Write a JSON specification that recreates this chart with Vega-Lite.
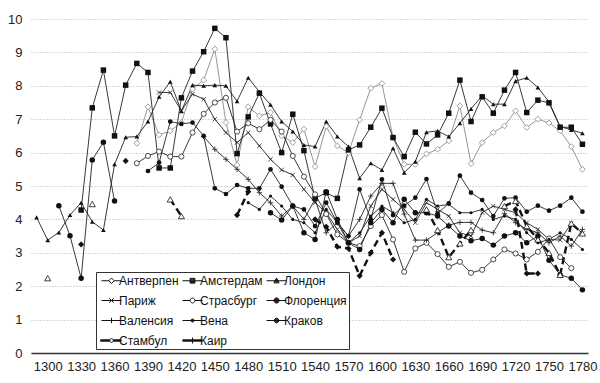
{
"$schema":"https://vega.github.io/schema/vega-lite/v6.json",
"autosize":"none","width":557,"height":334,
"padding":{"left":31,"top":19,"right":12,"bottom":30},
"background":"white",
"config":{"view":{"stroke":null},"font":"Liberation Sans"},
"data":{"values":[
{"city":"Антверпен","year":1380,"value":6.28},{"city":"Антверпен","year":1390,"value":7.37},{"city":"Антверпен","year":1400,"value":6.53},{"city":"Антверпен","year":1410,"value":6.65},{"city":"Антверпен","year":1420,"value":6.9},{"city":"Антверпен","year":1430,"value":7.9},{"city":"Антверпен","year":1440,"value":8.17},{"city":"Антверпен","year":1450,"value":9.1},{"city":"Антверпен","year":1460,"value":6.9},{"city":"Антверпен","year":1470,"value":5.63},{"city":"Антверпен","year":1480,"value":7.37},{"city":"Антверпен","year":1490,"value":7.1},{"city":"Антверпен","year":1500,"value":7.2},{"city":"Антверпен","year":1510,"value":6.5},{"city":"Антверпен","year":1520,"value":6.3},{"city":"Антверпен","year":1530,"value":6.7},{"city":"Антверпен","year":1540,"value":5.58},{"city":"Антверпен","year":1550,"value":6.78},{"city":"Антверпен","year":1560,"value":6.2},{"city":"Антверпен","year":1570,"value":6.0},{"city":"Антверпен","year":1580,"value":6.98},{"city":"Антверпен","year":1590,"value":7.93},{"city":"Антверпен","year":1600,"value":8.07},{"city":"Антверпен","year":1610,"value":6.45},{"city":"Антверпен","year":1620,"value":5.65},{"city":"Антверпен","year":1630,"value":5.65},{"city":"Антверпен","year":1640,"value":5.96},{"city":"Антверпен","year":1650,"value":6.1},{"city":"Антверпен","year":1660,"value":6.35},{"city":"Антверпен","year":1670,"value":7.4},{"city":"Антверпен","year":1680,"value":5.67},{"city":"Антверпен","year":1690,"value":6.3},{"city":"Антверпен","year":1700,"value":6.6},{"city":"Антверпен","year":1710,"value":6.8},{"city":"Антверпен","year":1720,"value":7.25},{"city":"Антверпен","year":1730,"value":6.75},{"city":"Антверпен","year":1740,"value":7.0},{"city":"Антверпен","year":1750,"value":6.89},{"city":"Антверпен","year":1760,"value":6.65},{"city":"Антверпен","year":1770,"value":6.18},{"city":"Антверпен","year":1780,"value":5.5},
{"city":"Амстердам","year":1330,"value":4.28},{"city":"Амстердам","year":1340,"value":7.34},{"city":"Амстердам","year":1350,"value":8.47},{"city":"Амстердам","year":1360,"value":6.5},{"city":"Амстердам","year":1370,"value":8.02},{"city":"Амстердам","year":1380,"value":8.67},{"city":"Амстердам","year":1390,"value":8.4},{"city":"Амстердам","year":1400,"value":5.54},{"city":"Амстердам","year":1410,"value":5.54},{"city":"Амстердам","year":1420,"value":7.64},{"city":"Амстердам","year":1430,"value":8.44},{"city":"Амстердам","year":1440,"value":9.02},{"city":"Амстердам","year":1450,"value":9.72},{"city":"Амстердам","year":1460,"value":9.44},{"city":"Амстердам","year":1470,"value":5.97},{"city":"Амстердам","year":1480,"value":7.07},{"city":"Амстердам","year":1490,"value":7.78},{"city":"Амстердам","year":1500,"value":6.86},{"city":"Амстердам","year":1510,"value":6.0},{"city":"Амстердам","year":1520,"value":7.15},{"city":"Амстердам","year":1530,"value":6.06},{"city":"Амстердам","year":1540,"value":4.63},{"city":"Амстердам","year":1550,"value":4.8},{"city":"Амстердам","year":1560,"value":4.63},{"city":"Амстердам","year":1570,"value":6.08},{"city":"Амстердам","year":1580,"value":6.23},{"city":"Амстердам","year":1590,"value":6.76},{"city":"Амстердам","year":1600,"value":7.33},{"city":"Амстердам","year":1610,"value":6.45},{"city":"Амстердам","year":1620,"value":5.88},{"city":"Амстердам","year":1630,"value":6.61},{"city":"Амстердам","year":1640,"value":6.26},{"city":"Амстердам","year":1650,"value":6.53},{"city":"Амстердам","year":1660,"value":7.18},{"city":"Амстердам","year":1670,"value":8.17},{"city":"Амстердам","year":1680,"value":6.93},{"city":"Амстердам","year":1690,"value":7.67},{"city":"Амстердам","year":1700,"value":7.18},{"city":"Амстердам","year":1710,"value":7.87},{"city":"Амстердам","year":1720,"value":8.4},{"city":"Амстердам","year":1730,"value":7.2},{"city":"Амстердам","year":1740,"value":7.57},{"city":"Амстердам","year":1750,"value":7.49},{"city":"Амстердам","year":1760,"value":6.76},{"city":"Амстердам","year":1770,"value":6.76},{"city":"Амстердам","year":1780,"value":6.25},
{"city":"Лондон","year":1290,"value":4.06},{"city":"Лондон","year":1300,"value":3.38},{"city":"Лондон","year":1310,"value":3.61},{"city":"Лондон","year":1320,"value":4.13},{"city":"Лондон","year":1330,"value":4.5},{"city":"Лондон","year":1340,"value":3.93},{"city":"Лондон","year":1350,"value":3.68},{"city":"Лондон","year":1360,"value":5.65},{"city":"Лондон","year":1370,"value":6.46},{"city":"Лондон","year":1380,"value":6.48},{"city":"Лондон","year":1390,"value":6.93},{"city":"Лондон","year":1400,"value":7.67},{"city":"Лондон","year":1410,"value":8.12},{"city":"Лондон","year":1420,"value":7.24},{"city":"Лондон","year":1430,"value":8.02},{"city":"Лондон","year":1440,"value":8.0},{"city":"Лондон","year":1450,"value":8.02},{"city":"Лондон","year":1460,"value":8.0},{"city":"Лондон","year":1470,"value":7.54},{"city":"Лондон","year":1480,"value":8.24},{"city":"Лондон","year":1490,"value":7.82},{"city":"Лондон","year":1500,"value":7.43},{"city":"Лондон","year":1510,"value":6.93},{"city":"Лондон","year":1520,"value":6.63},{"city":"Лондон","year":1530,"value":6.23},{"city":"Лондон","year":1540,"value":6.18},{"city":"Лондон","year":1550,"value":6.93},{"city":"Лондон","year":1560,"value":6.48},{"city":"Лондон","year":1570,"value":6.18},{"city":"Лондон","year":1580,"value":5.23},{"city":"Лондон","year":1590,"value":5.68},{"city":"Лондон","year":1600,"value":5.48},{"city":"Лондон","year":1610,"value":6.13},{"city":"Лондон","year":1620,"value":5.4},{"city":"Лондон","year":1630,"value":5.73},{"city":"Лондон","year":1640,"value":6.61},{"city":"Лондон","year":1650,"value":6.65},{"city":"Лондон","year":1660,"value":6.48},{"city":"Лондон","year":1670,"value":6.88},{"city":"Лондон","year":1680,"value":7.31},{"city":"Лондон","year":1690,"value":7.7},{"city":"Лондон","year":1700,"value":7.45},{"city":"Лондон","year":1710,"value":7.45},{"city":"Лондон","year":1720,"value":8.14},{"city":"Лондон","year":1730,"value":8.24},{"city":"Лондон","year":1740,"value":7.95},{"city":"Лондон","year":1750,"value":7.52},{"city":"Лондон","year":1760,"value":6.78},{"city":"Лондон","year":1770,"value":6.68},{"city":"Лондон","year":1780,"value":6.58},
{"city":"Париж","year":1400,"value":7.8},{"city":"Париж","year":1410,"value":7.8},{"city":"Париж","year":1420,"value":7.25},{"city":"Париж","year":1430,"value":7.75},{"city":"Париж","year":1440,"value":7.6},{"city":"Париж","year":1450,"value":7.0},{"city":"Париж","year":1460,"value":6.6},{"city":"Париж","year":1470,"value":6.3},{"city":"Париж","year":1480,"value":6.6},{"city":"Париж","year":1490,"value":6.2},{"city":"Париж","year":1500,"value":5.8},{"city":"Париж","year":1510,"value":5.48},{"city":"Париж","year":1520,"value":5.33},{"city":"Париж","year":1530,"value":4.9},{"city":"Париж","year":1540,"value":4.5},{"city":"Париж","year":1550,"value":4.2},{"city":"Париж","year":1560,"value":3.7},{"city":"Париж","year":1570,"value":3.3},{"city":"Париж","year":1580,"value":3.5},{"city":"Париж","year":1590,"value":4.4},{"city":"Париж","year":1600,"value":4.9},{"city":"Париж","year":1610,"value":4.6},{"city":"Париж","year":1620,"value":4.3},{"city":"Париж","year":1630,"value":3.9},{"city":"Париж","year":1640,"value":4.5},{"city":"Париж","year":1650,"value":4.3},{"city":"Париж","year":1660,"value":4.1},{"city":"Париж","year":1670,"value":3.6},{"city":"Париж","year":1680,"value":3.5},{"city":"Париж","year":1690,"value":4.2},{"city":"Париж","year":1700,"value":4.4},{"city":"Париж","year":1710,"value":4.3},{"city":"Париж","year":1720,"value":4.2},{"city":"Париж","year":1730,"value":3.9},{"city":"Париж","year":1740,"value":3.7},{"city":"Париж","year":1750,"value":3.4},{"city":"Париж","year":1760,"value":3.38},{"city":"Париж","year":1770,"value":3.88},{"city":"Париж","year":1780,"value":3.58},
{"city":"Страсбург","year":1380,"value":5.68},{"city":"Страсбург","year":1390,"value":5.9},{"city":"Страсбург","year":1400,"value":6.03},{"city":"Страсбург","year":1410,"value":5.88},{"city":"Страсбург","year":1420,"value":5.88},{"city":"Страсбург","year":1430,"value":6.6},{"city":"Страсбург","year":1440,"value":7.16},{"city":"Страсбург","year":1450,"value":7.5},{"city":"Страсбург","year":1460,"value":7.64},{"city":"Страсбург","year":1470,"value":6.63},{"city":"Страсбург","year":1480,"value":6.88},{"city":"Страсбург","year":1490,"value":6.7},{"city":"Страсбург","year":1500,"value":6.98},{"city":"Страсбург","year":1510,"value":6.63},{"city":"Страсбург","year":1520,"value":5.9},{"city":"Страсбург","year":1530,"value":5.28},{"city":"Страсбург","year":1540,"value":4.75},{"city":"Страсбург","year":1550,"value":4.16},{"city":"Страсбург","year":1560,"value":3.55},{"city":"Страсбург","year":1570,"value":3.3},{"city":"Страсбург","year":1580,"value":3.2},{"city":"Страсбург","year":1590,"value":3.8},{"city":"Страсбург","year":1600,"value":4.13},{"city":"Страсбург","year":1610,"value":3.4},{"city":"Страсбург","year":1620,"value":2.43},{"city":"Страсбург","year":1630,"value":3.13},{"city":"Страсбург","year":1640,"value":3.3},{"city":"Страсбург","year":1650,"value":2.96},{"city":"Страсбург","year":1660,"value":2.58},{"city":"Страсбург","year":1670,"value":2.73},{"city":"Страсбург","year":1680,"value":2.4},{"city":"Страсбург","year":1690,"value":2.49},{"city":"Страсбург","year":1700,"value":2.8},{"city":"Страсбург","year":1710,"value":3.1},{"city":"Страсбург","year":1720,"value":2.98},{"city":"Страсбург","year":1730,"value":2.8},{"city":"Страсбург","year":1740,"value":3.03},{"city":"Страсбург","year":1750,"value":3.43},{"city":"Страсбург","year":1760,"value":2.87},{"city":"Страсбург","year":1770,"value":2.54},
{"city":"Флоренция","seg":1,"year":1310,"value":4.41},{"city":"Флоренция","seg":1,"year":1320,"value":3.51},{"city":"Флоренция","seg":1,"year":1330,"value":2.24},{"city":"Флоренция","seg":1,"year":1340,"value":5.78},{"city":"Флоренция","seg":1,"year":1350,"value":6.31},{"city":"Флоренция","seg":1,"year":1360,"value":4.55},
{"city":"Флоренция","seg":2,"year":1500,"value":4.2},{"city":"Флоренция","seg":2,"year":1510,"value":3.98},{"city":"Флоренция","seg":2,"year":1520,"value":4.4},{"city":"Флоренция","seg":2,"year":1530,"value":3.6},{"city":"Флоренция","seg":2,"year":1540,"value":3.4},{"city":"Флоренция","seg":2,"year":1550,"value":4.83},{"city":"Флоренция","seg":2,"year":1560,"value":4.0},{"city":"Флоренция","seg":2,"year":1570,"value":3.3},{"city":"Флоренция","seg":2,"year":1580,"value":3.1},{"city":"Флоренция","seg":2,"year":1590,"value":3.9},{"city":"Флоренция","seg":2,"year":1600,"value":4.3},{"city":"Флоренция","seg":2,"year":1610,"value":3.9},{"city":"Флоренция","seg":2,"year":1620,"value":4.6},{"city":"Флоренция","seg":2,"year":1630,"value":4.2},{"city":"Флоренция","seg":2,"year":1640,"value":4.2},{"city":"Флоренция","seg":2,"year":1650,"value":4.1},{"city":"Флоренция","seg":2,"year":1660,"value":3.8},{"city":"Флоренция","seg":2,"year":1670,"value":3.5},{"city":"Флоренция","seg":2,"year":1680,"value":3.36},{"city":"Флоренция","seg":2,"year":1690,"value":3.43},{"city":"Флоренция","seg":2,"year":1700,"value":3.23},{"city":"Флоренция","seg":2,"year":1710,"value":3.5},{"city":"Флоренция","seg":2,"year":1720,"value":3.6},{"city":"Флоренция","seg":2,"year":1730,"value":3.3},{"city":"Флоренция","seg":2,"year":1740,"value":3.5},{"city":"Флоренция","seg":2,"year":1750,"value":2.78},{"city":"Флоренция","seg":2,"year":1760,"value":2.34},{"city":"Флоренция","seg":2,"year":1770,"value":2.24},{"city":"Флоренция","seg":2,"year":1780,"value":1.89},
{"city":"Валенсия","year":1440,"value":6.48},{"city":"Валенсия","year":1450,"value":6.1},{"city":"Валенсия","year":1460,"value":5.8},{"city":"Валенсия","year":1470,"value":5.5},{"city":"Валенсия","year":1480,"value":5.2},{"city":"Валенсия","year":1490,"value":4.8},{"city":"Валенсия","year":1500,"value":4.5},{"city":"Валенсия","year":1510,"value":4.1},{"city":"Валенсия","year":1520,"value":4.4},{"city":"Валенсия","year":1530,"value":4.0},{"city":"Валенсия","year":1540,"value":4.6},{"city":"Валенсия","year":1550,"value":3.6},{"city":"Валенсия","year":1560,"value":3.9},{"city":"Валенсия","year":1570,"value":3.5},{"city":"Валенсия","year":1580,"value":4.0},{"city":"Валенсия","year":1590,"value":4.7},{"city":"Валенсия","year":1600,"value":5.08},{"city":"Валенсия","year":1610,"value":5.08},{"city":"Валенсия","year":1620,"value":4.16},{"city":"Валенсия","year":1630,"value":3.38},{"city":"Валенсия","year":1640,"value":3.38},{"city":"Валенсия","year":1650,"value":3.6},{"city":"Валенсия","year":1660,"value":3.83},{"city":"Валенсия","year":1670,"value":3.91},{"city":"Валенсия","year":1680,"value":3.91},{"city":"Валенсия","year":1690,"value":3.68},{"city":"Валенсия","year":1700,"value":3.6},{"city":"Валенсия","year":1710,"value":4.18},{"city":"Валенсия","year":1720,"value":3.9},{"city":"Валенсия","year":1730,"value":3.7},{"city":"Валенсия","year":1740,"value":3.6},{"city":"Валенсия","year":1750,"value":3.3},{"city":"Валенсия","year":1760,"value":3.5},{"city":"Валенсия","year":1770,"value":3.2},{"city":"Валенсия","year":1780,"value":3.7},
{"city":"Вена","year":1480,"value":4.5},{"city":"Вена","year":1490,"value":4.3},{"city":"Вена","year":1500,"value":4.7},{"city":"Вена","year":1510,"value":4.4},{"city":"Вена","year":1520,"value":4.0},{"city":"Вена","year":1530,"value":3.9},{"city":"Вена","year":1540,"value":3.6},{"city":"Вена","year":1550,"value":4.3},{"city":"Вена","year":1560,"value":3.9},{"city":"Вена","year":1570,"value":3.3},{"city":"Вена","year":1580,"value":3.6},{"city":"Вена","year":1590,"value":4.1},{"city":"Вена","year":1600,"value":4.4},{"city":"Вена","year":1610,"value":4.2},{"city":"Вена","year":1620,"value":3.9},{"city":"Вена","year":1630,"value":4.0},{"city":"Вена","year":1640,"value":4.6},{"city":"Вена","year":1650,"value":4.4},{"city":"Вена","year":1660,"value":4.45},{"city":"Вена","year":1670,"value":4.2},{"city":"Вена","year":1680,"value":4.2},{"city":"Вена","year":1690,"value":4.3},{"city":"Вена","year":1700,"value":4.0},{"city":"Вена","year":1710,"value":4.1},{"city":"Вена","year":1720,"value":4.0},{"city":"Вена","year":1730,"value":3.6},{"city":"Вена","year":1740,"value":3.3},{"city":"Вена","year":1750,"value":3.4},{"city":"Вена","year":1760,"value":3.6},{"city":"Вена","year":1770,"value":3.4},{"city":"Вена","year":1780,"value":3.1},
{"city":"Краков","year":1390,"value":5.45},{"city":"Краков","year":1400,"value":5.7},{"city":"Краков","year":1410,"value":6.93},{"city":"Краков","year":1420,"value":6.86},{"city":"Краков","year":1430,"value":6.9},{"city":"Краков","year":1440,"value":6.5},{"city":"Краков","year":1450,"value":4.93},{"city":"Краков","year":1460,"value":4.76},{"city":"Краков","year":1470,"value":5.03},{"city":"Краков","year":1480,"value":4.93},{"city":"Краков","year":1490,"value":4.93},{"city":"Краков","year":1500,"value":5.5},{"city":"Краков","year":1510,"value":4.98},{"city":"Краков","year":1520,"value":4.4},{"city":"Краков","year":1530,"value":4.3},{"city":"Краков","year":1540,"value":3.8},{"city":"Краков","year":1550,"value":4.5},{"city":"Краков","year":1560,"value":3.9},{"city":"Краков","year":1570,"value":3.5},{"city":"Краков","year":1580,"value":4.9},{"city":"Краков","year":1590,"value":4.0},{"city":"Краков","year":1600,"value":5.2},{"city":"Краков","year":1610,"value":4.13},{"city":"Краков","year":1620,"value":4.41},{"city":"Краков","year":1630,"value":4.65},{"city":"Краков","year":1640,"value":5.21},{"city":"Краков","year":1650,"value":4.18},{"city":"Краков","year":1660,"value":4.48},{"city":"Краков","year":1670,"value":5.31},{"city":"Краков","year":1680,"value":4.8},{"city":"Краков","year":1690,"value":4.58},{"city":"Краков","year":1700,"value":4.1},{"city":"Краков","year":1710,"value":4.63},{"city":"Краков","year":1720,"value":4.65},{"city":"Краков","year":1730,"value":4.23},{"city":"Краков","year":1740,"value":4.41},{"city":"Краков","year":1750,"value":4.26},{"city":"Краков","year":1760,"value":4.41},{"city":"Краков","year":1770,"value":4.65},{"city":"Краков","year":1780,"value":4.23},
{"city":"Стамбул","seg":1,"year":1330,"value":3.25},{"city":"Стамбул","seg":2,"year":1370,"value":5.75},{"city":"Стамбул","seg":3,"year":1470,"value":4.13},{"city":"Стамбул","seg":3,"year":1480,"value":4.83},
{"city":"Стамбул","seg":4,"year":1540,"value":4.0},{"city":"Стамбул","seg":4,"year":1550,"value":3.78},{"city":"Стамбул","seg":4,"year":1560,"value":3.18},{"city":"Стамбул","seg":4,"year":1570,"value":3.13},{"city":"Стамбул","seg":4,"year":1580,"value":2.31},{"city":"Стамбул","seg":4,"year":1590,"value":3.0},{"city":"Стамбул","seg":4,"year":1600,"value":3.6},{"city":"Стамбул","seg":4,"year":1610,"value":2.8},
{"city":"Стамбул","seg":5,"year":1720,"value":4.3},{"city":"Стамбул","seg":5,"year":1730,"value":2.38},{"city":"Стамбул","seg":5,"year":1740,"value":2.38},
{"city":"Каир","seg":1,"year":1300,"value":2.24},{"city":"Каир","seg":2,"year":1340,"value":4.46},{"city":"Каир","seg":3,"year":1410,"value":4.6},{"city":"Каир","seg":3,"year":1420,"value":4.1},
{"city":"Каир","seg":4,"year":1640,"value":4.3},{"city":"Каир","seg":4,"year":1650,"value":3.68},{"city":"Каир","seg":4,"year":1660,"value":2.87},{"city":"Каир","seg":4,"year":1670,"value":3.28},{"city":"Каир","seg":4,"year":1680,"value":3.68},
{"city":"Каир","seg":5,"year":1710,"value":4.4},{"city":"Каир","seg":5,"year":1720,"value":4.55},{"city":"Каир","seg":5,"year":1730,"value":3.8},{"city":"Каир","seg":5,"year":1740,"value":3.4},{"city":"Каир","seg":5,"year":1750,"value":3.0},{"city":"Каир","seg":5,"year":1760,"value":2.34},{"city":"Каир","seg":5,"year":1770,"value":3.88},{"city":"Каир","seg":5,"year":1780,"value":3.58}
]},
"encoding":{
 "x":{"field":"year","type":"quantitative","scale":{"domain":[1285,1785],"nice":false,"zero":false},
  "axis":{"title":null,"values":[1300,1330,1360,1390,1420,1450,1480,1510,1540,1570,1600,1630,1660,1690,1720,1750,1780],"format":"d","grid":false,"ticks":false,"domainColor":"#333","domainWidth":1.5,"labelPadding":7,"labelFontSize":13,"labelColor":"#222"}},
 "y":{"field":"value","type":"quantitative","scale":{"domain":[0,10],"nice":false},
  "axis":{"title":null,"values":[0,1,2,3,4,5,6,7,8,9,10],"grid":true,"gridDash":[1,2],"gridColor":"#b0b0b0","gridWidth":1,"domain":false,"ticks":false,"labelPadding":9,"labelFontSize":13,"labelColor":"#222"}}
},
"layer":[
 {"transform":[{"filter":"datum.city === 'Антверпен'"}],"mark":{"type":"line","strokeWidth":0.9,"color":"#8a8a8a"},"encoding":{"detail":[{"field":"city"},{"field":"seg"}]}},
 {"transform":[{"filter":"datum.city !== 'Антверпен' && datum.city !== 'Стамбул' && datum.city !== 'Каир'"}],"mark":{"type":"line","strokeWidth":0.9,"color":"#222"},"encoding":{"detail":[{"field":"city"},{"field":"seg"}]}},
 {"transform":[{"filter":"datum.city === 'Стамбул' || datum.city === 'Каир'"}],"mark":{"type":"line","strokeWidth":2.4,"strokeDash":[7,4],"color":"#111"},"encoding":{"detail":[{"field":"city"},{"field":"seg"}]}},
 {"transform":[{"filter":"datum.city === 'Антверпен'"}],"mark":{"type":"point","shape":"diamond","size":34,"filled":true,"fill":"white","stroke":"#888","strokeWidth":0.8,"opacity":1}},
 {"transform":[{"filter":"datum.city === 'Амстердам'"}],"mark":{"type":"point","shape":"square","size":30,"filled":true,"color":"#111","opacity":1}},
 {"transform":[{"filter":"datum.city === 'Лондон'"}],"mark":{"type":"point","shape":"triangle-up","size":22,"filled":true,"color":"#111","opacity":1}},
 {"transform":[{"filter":"datum.city === 'Париж'"}],"mark":{"type":"point","shape":"M-1,-1L1,1M-1,1L1,-1","size":18,"filled":false,"color":"#222","strokeWidth":0.8,"opacity":1}},
 {"transform":[{"filter":"datum.city === 'Страсбург'"}],"mark":{"type":"point","shape":"circle","size":26,"filled":true,"fill":"white","stroke":"#222","strokeWidth":0.8,"opacity":1}},
 {"transform":[{"filter":"datum.city === 'Флоренция'"}],"mark":{"type":"point","shape":"circle","size":30,"filled":true,"color":"#111","opacity":1}},
 {"transform":[{"filter":"datum.city === 'Валенсия'"}],"mark":{"type":"point","shape":"M-1,0H1M0,-1V1","size":30,"filled":false,"color":"#222","strokeWidth":0.8,"opacity":1}},
 {"transform":[{"filter":"datum.city === 'Вена'"}],"mark":{"type":"point","shape":"circle","size":10,"filled":true,"color":"#111","opacity":1}},
 {"transform":[{"filter":"datum.city === 'Краков'"}],"mark":{"type":"point","shape":"circle","size":22,"filled":true,"color":"#111","opacity":1}},
 {"transform":[{"filter":"datum.city === 'Стамбул'"}],"mark":{"type":"point","shape":"diamond","size":38,"filled":true,"color":"#111","opacity":1}},
 {"transform":[{"filter":"datum.city === 'Каир'"}],"mark":{"type":"point","shape":"triangle-up","size":38,"filled":true,"fill":"white","stroke":"#111","strokeWidth":0.8,"opacity":1}},
 {"mark":{"type":"point","filled":false,"color":"#111","strokeWidth":1,"opacity":0},
  "encoding":{
   "shape":{"field":"city","type":"nominal",
    "scale":{"domain":["Антверпен","Париж","Валенсия","Стамбул","Амстердам","Страсбург","Вена","Каир","Лондон","Флоренция","Краков"],
     "range":[
      "M-0.5,0H0.72M1.62,0H2.83M1.17,-0.45L1.62,0L1.17,0.45L0.72,0Z",
      "M-0.5,0H2.83M0.8,-0.37L1.54,0.37M0.8,0.37L1.54,-0.37",
      "M-0.5,0H2.83M1.17,-0.45V0.45",
      "M-0.7,-0.12H0.89M-0.7,0H0.87M-0.7,0.12H0.89M1.45,-0.12H2.83M1.47,0H2.83M1.45,0.12H2.83M1.47,0A0.3,0.3 0 1,1 0.87,0A0.3,0.3 0 1,1 1.47,0Z",
      "M-0.5,0H2.83M0.77,-0.4H1.57V0.4H0.77ZM0.77,-0.27H1.57M0.77,-0.13H1.57M0.77,0.13H1.57M0.77,0.27H1.57",
      "M-0.5,0H0.77M1.57,0H2.83M1.57,0A0.4,0.4 0 1,1 0.77,0A0.4,0.4 0 1,1 1.57,0Z",
      "M-0.5,0H2.83M1.42,0A0.25,0.25 0 1,1 0.92,0A0.25,0.25 0 1,1 1.42,0ZM0.951,-0.12H1.389M0.951,0.12H1.389",
      "M-0.5,-0.12H2.83M-0.5,0H2.83M-0.5,0.12H2.83M1.17,-0.5V0.5",
      "M-0.5,0H2.83M1.17,-0.45L1.6,0.35H0.74ZM1.06,-0.25H1.28M0.98,-0.1H1.36M0.9,0.05H1.44M0.82,0.2H1.52",
      "M-0.5,0H2.83M1.59,0A0.42,0.42 0 1,1 0.75,0A0.42,0.42 0 1,1 1.59,0ZM0.876,-0.3H1.464M0.778,-0.15H1.562M0.778,0.15H1.562M0.876,0.3H1.464",
      "M-0.5,0H2.83M1.55,0A0.38,0.38 0 1,1 0.79,0A0.38,0.38 0 1,1 1.55,0ZM0.903,-0.27H1.437M0.813,-0.13H1.527M0.813,0.13H1.527M0.903,0.27H1.437"]},
    "legend":{"title":null,"orient":"none","legendX":65,"legendY":253,"columns":3,"symbolSize":144,"symbolOpacity":1,"symbolStrokeColor":"#111","symbolFillColor":"transparent","symbolStrokeWidth":1,"padding":2,"rowPadding":7,"columnPadding":0,"labelOffset":8,"labelFontSize":12,"labelColor":"#111","strokeColor":"#333","fillColor":"white"}}
  }}
]
}
